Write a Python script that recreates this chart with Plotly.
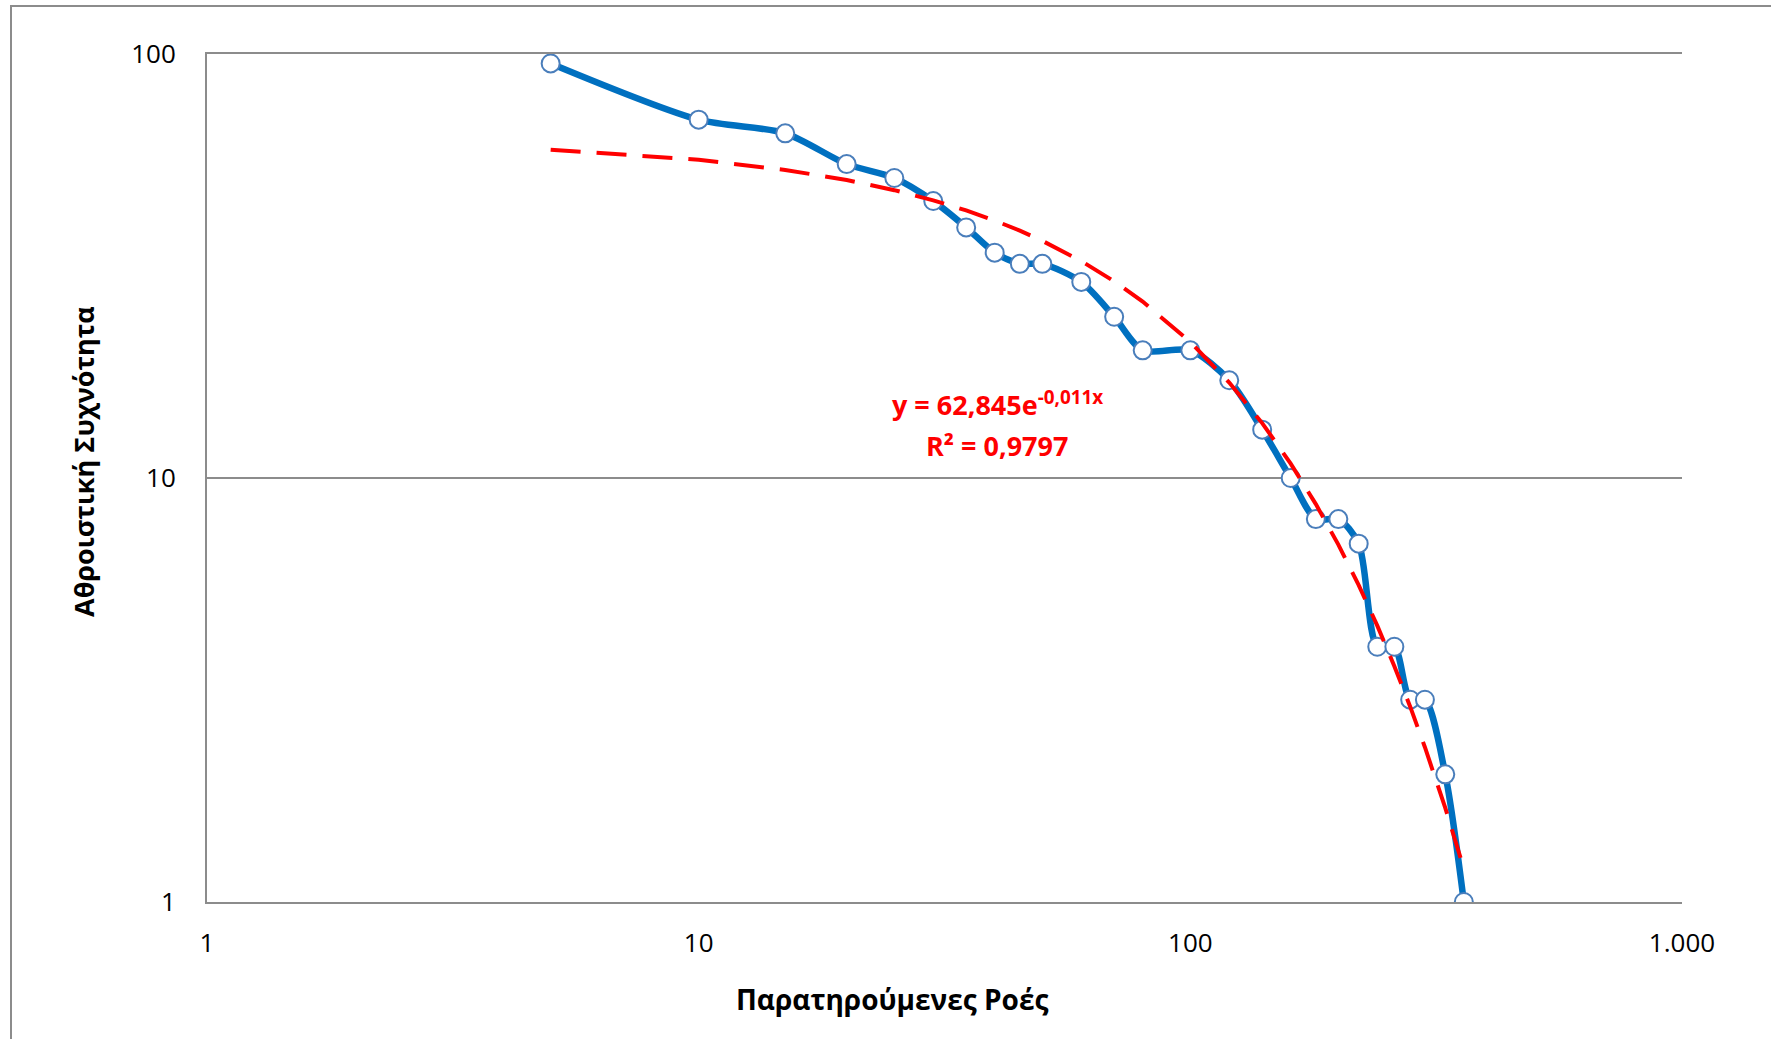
import math
import plotly.graph_objects as go

flows = [5, 10, 15, 20, 25, 30, 35, 40, 45, 50, 60, 70, 80, 100, 120, 140,
         160, 180, 200, 220, 240, 260, 280, 300, 330, 360]
cum_freq = [95, 70, 65, 55, 51, 45, 39, 34, 32, 32, 29, 24, 20, 20, 17, 13,
            10, 8, 8, 7, 4, 4, 3, 3, 2, 1]

# exponential trendline as printed on the chart
trend_a = 62.845
trend_b = -0.011
eq_line = "y = 62,845e<sup>-0,011x</sup>"
r2_line = "R² = 0,9797"

x_ticks = [1, 10, 100, 1000]
x_ticktext = ["1", "10", "100", "1.000"]
y_ticks = [1, 10, 100]
y_ticktext = ["1", "10", "100"]

trend_y = [trend_a * math.exp(trend_b * v) for v in flows]

FONT = "Open Sans"
GRID = "#8c8c8c"

# plot area in pixels (matches the reference layout)
L, R, T, B = 207, 1682, 54, 902
W, H = R - L, B - T


def px(x):
    return (x - L) / W


def py(y):
    return (B - y) / H


fig = go.Figure()

fig.add_trace(go.Scatter(
    x=flows, y=cum_freq,
    mode="lines+markers",
    line=dict(color="#0070C0", width=6.5, shape="spline", smoothing=0.8),
    marker=dict(size=18, color="white", line=dict(color="#4A7EBB", width=2)),
    showlegend=False,
))

fig.add_trace(go.Scatter(
    x=flows, y=trend_y,
    mode="lines",
    line=dict(color="#FF0000", width=4, dash="30px,16px"),
    showlegend=False,
))

fig.update_layout(
    width=1771, height=1039,
    margin=dict(l=L, r=1771 - R, t=T, b=1039 - B),
    paper_bgcolor="white",
    plot_bgcolor="white",
    font=dict(family=FONT, size=26, color="black"),
    xaxis=dict(
        type="log", range=[0, 3],
        tickvals=x_ticks, ticktext=x_ticktext,
        showgrid=False, zeroline=False,
        showline=True, linecolor=GRID, linewidth=2, mirror=True,
        ticks="", ticklabelstandoff=17,
        tickfont=dict(family=FONT, size=26),
    ),
    yaxis=dict(
        type="log", range=[0, 2],
        tickvals=y_ticks, ticktext=y_ticktext,
        showgrid=True, gridcolor=GRID, gridwidth=2,
        zeroline=False,
        showline=True, linecolor=GRID, linewidth=2,
        ticks="", ticklabelstandoff=24,
        tickfont=dict(family=FONT, size=26),
    ),
    shapes=[dict(
        type="rect", xref="paper", yref="paper",
        x0=px(11), x1=px(1773), y0=py(1047), y1=py(6),
        line=dict(color=GRID, width=2), fillcolor="rgba(0,0,0,0)",
        layer="below",
    )],
    annotations=[
        dict(
            text="<b>Παρατηρούμενες Ροές</b>",
            xref="paper", yref="paper", x=px(892), y=py(999),
            showarrow=False, font=dict(family=FONT, size=28),
            xanchor="center", yanchor="middle",
        ),
        dict(
            text="<b>Αθροιστική Συχνότητα</b>",
            xref="paper", yref="paper", x=px(83), y=py(461),
            showarrow=False, textangle=-90, font=dict(family=FONT, size=27),
            xanchor="center", yanchor="middle",
        ),
        dict(
            text="<b>" + eq_line + "</b>",
            xref="paper", yref="paper", x=px(997), y=py(425),
            showarrow=False, font=dict(family=FONT, size=27, color="#FF0000"),
            xanchor="center", yanchor="bottom",
        ),
        dict(
            text="<b>" + r2_line + "</b>",
            xref="paper", yref="paper", x=px(997), y=py(425),
            showarrow=False, font=dict(family=FONT, size=27, color="#FF0000"),
            xanchor="center", yanchor="top",
        ),
    ],
)

fig.write_html("out.html", config={"displayModeBar": False},
               post_script="document.body.style.margin='0';")
